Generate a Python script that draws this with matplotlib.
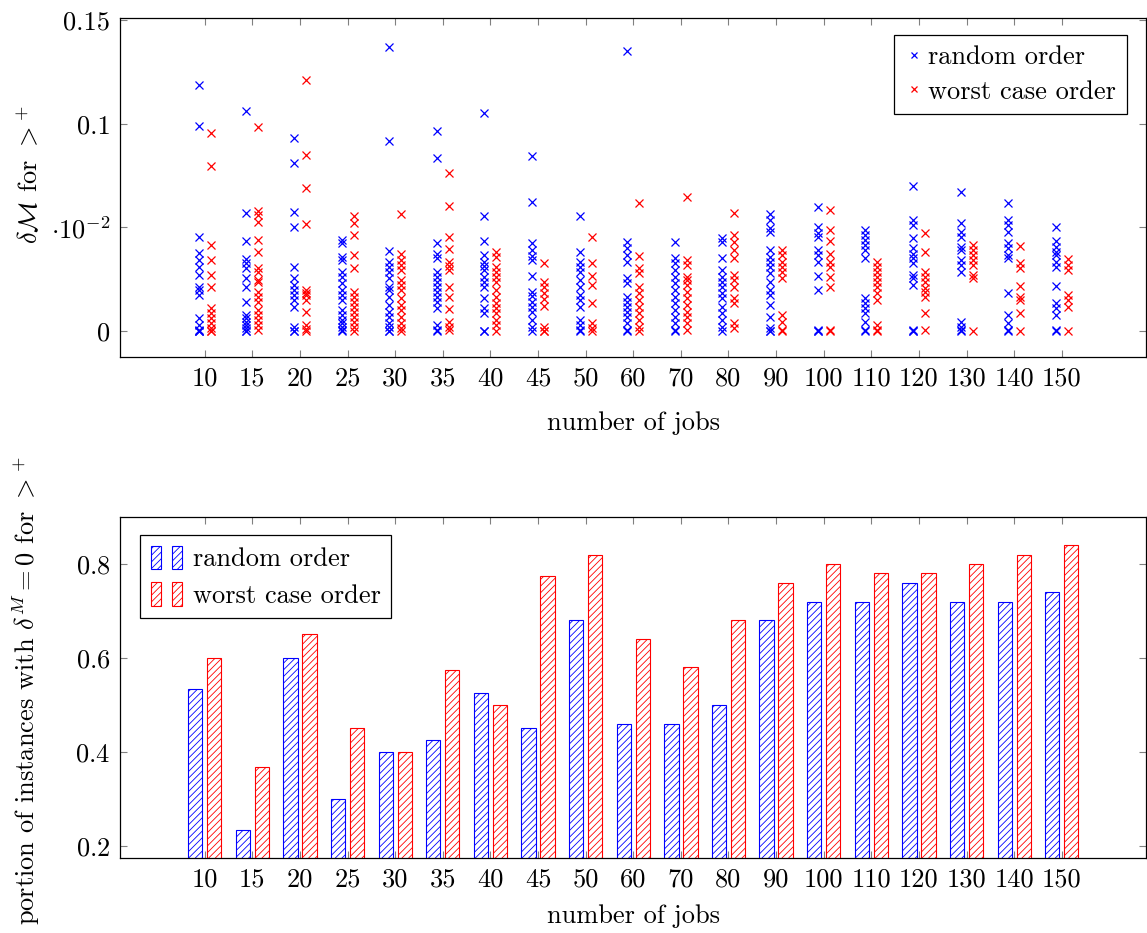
import numpy as np
import matplotlib
matplotlib.use('Agg')
import matplotlib.pyplot as plt
from matplotlib.patches import Patch
from matplotlib.legend_handler import HandlerTuple

jobs = [10, 15, 20, 25, 30, 35, 40, 45, 50, 60, 70, 80, 90, 100, 110, 120, 130, 140, 150]

# delta M values per instance (top chart), one list per number of jobs
random_delta = [
    [0.1186, 0.0988, 0.0455, 0.0378, 0.0342, 0.0307, 0.0270, 0.0214, 0.0198, 0.0174, 0.0061, 0.0029, 0.0005, 0, 0, 0],
    [0.1061, 0.0570, 0.0435, 0.0347, 0.0326, 0.0302, 0.0254, 0.0214, 0.0141, 0.0077, 0.0061, 0.0045, 0.0029, 0.0013, 0, 0],
    [0.0929, 0.0812, 0.0575, 0.0503, 0.0307, 0.0254, 0.0222, 0.0198, 0.0174, 0.0149, 0.0117, 0.0021, 0, 0],
    [0.0439, 0.0423, 0.0358, 0.0342, 0.0286, 0.0262, 0.0230, 0.0198, 0.0174, 0.0149, 0.0101, 0.0077, 0.0053, 0.0037, 0.0021, 0.0005, 0],
    [0.1371, 0.0918, 0.0387, 0.0334, 0.0310, 0.0286, 0.0254, 0.0214, 0.0198, 0.0165, 0.0125, 0.0093, 0.0069, 0.0037, 0.0021, 0, 0],
    [0.0964, 0.0833, 0.0426, 0.0371, 0.0350, 0.0286, 0.0262, 0.0238, 0.0214, 0.0189, 0.0165, 0.0141, 0.0109, 0.0029, 0.0005, 0],
    [0.1050, 0.0554, 0.0435, 0.0366, 0.0334, 0.0313, 0.0294, 0.0262, 0.0238, 0.0214, 0.0158, 0.0109, 0.0085, 0, 0],
    [0.0845, 0.0622, 0.0423, 0.0391, 0.0362, 0.0342, 0.0265, 0.0189, 0.0169, 0.0141, 0.0117, 0.0093, 0.0053, 0.0021, 0],
    [0.0554, 0.0382, 0.0334, 0.0310, 0.0286, 0.0246, 0.0214, 0.0174, 0.0149, 0.0117, 0.0053, 0.0029, 0.0005, 0],
    [0.1351, 0.0431, 0.0399, 0.0366, 0.0334, 0.0254, 0.0230, 0.0165, 0.0141, 0.0117, 0.0093, 0.0069, 0.0037, 0.0005, 0],
    [0.0431, 0.0350, 0.0326, 0.0294, 0.0262, 0.0230, 0.0198, 0.0165, 0.0134, 0.0101, 0.0069, 0.0037, 0.0005, 0],
    [0.0447, 0.0431, 0.0350, 0.0294, 0.0262, 0.0238, 0.0214, 0.0182, 0.0158, 0.0117, 0.0085, 0.0053, 0.0021, 0],
    [0.0567, 0.0535, 0.0495, 0.0479, 0.0391, 0.0358, 0.0334, 0.0310, 0.0278, 0.0238, 0.0198, 0.0174, 0.0125, 0.0069, 0.0013, 0, 0],
    [0.0599, 0.0503, 0.0471, 0.0452, 0.0391, 0.0366, 0.0334, 0.0265, 0.0198, 0.0005, 0, 0],
    [0.0487, 0.0463, 0.0439, 0.0415, 0.0391, 0.0350, 0.0158, 0.0134, 0.0109, 0.0085, 0.0045, 0.0005, 0],
    [0.0699, 0.0535, 0.0511, 0.0447, 0.0399, 0.0374, 0.0350, 0.0326, 0.0270, 0.0254, 0.0222, 0.0005, 0, 0],
    [0.0672, 0.0519, 0.0479, 0.0452, 0.0407, 0.0391, 0.0342, 0.0318, 0.0286, 0.0045, 0.0021, 0.0005, 0],
    [0.0616, 0.0535, 0.0511, 0.0479, 0.0423, 0.0399, 0.0366, 0.0350, 0.0182, 0.0077, 0.0037, 0.0005, 0],
    [0.0500, 0.0435, 0.0407, 0.0382, 0.0366, 0.0334, 0.0310, 0.0217, 0.0134, 0.0109, 0.0077, 0.0005, 0],
]
worst_delta = [
    [0.0953, 0.0797, 0.0415, 0.0342, 0.0270, 0.0211, 0.0109, 0.0085, 0.0063, 0.0037, 0.0014, 0, 0],
    [0.0985, 0.0580, 0.0559, 0.0527, 0.0439, 0.0382, 0.0302, 0.0286, 0.0246, 0.0238, 0.0189, 0.0165, 0.0141, 0.0101, 0.0077, 0.0053, 0.0029, 0.0005],
    [0.1210, 0.0849, 0.0688, 0.0514, 0.0198, 0.0184, 0.0174, 0.0149, 0.0093, 0.0029, 0.0010, 0],
    [0.0554, 0.0519, 0.0463, 0.0366, 0.0302, 0.0189, 0.0165, 0.0141, 0.0117, 0.0093, 0.0069, 0.0045, 0.0021, 0],
    [0.0563, 0.0371, 0.0342, 0.0318, 0.0294, 0.0246, 0.0222, 0.0198, 0.0158, 0.0125, 0.0101, 0.0069, 0.0037, 0.0013, 0],
    [0.0763, 0.0604, 0.0455, 0.0394, 0.0334, 0.0313, 0.0294, 0.0211, 0.0165, 0.0105, 0.0045, 0.0021, 0.0005],
    [0.0382, 0.0358, 0.0310, 0.0286, 0.0262, 0.0238, 0.0198, 0.0165, 0.0134, 0.0109, 0.0085, 0.0053, 0.0029, 0],
    [0.0326, 0.0238, 0.0214, 0.0182, 0.0153, 0.0121, 0.0021, 0, 0],
    [0.0455, 0.0329, 0.0265, 0.0222, 0.0134, 0.0037, 0.0013, 0],
    [0.0616, 0.0362, 0.0302, 0.0278, 0.0214, 0.0182, 0.0149, 0.0117, 0.0085, 0.0053, 0.0021, 0],
    [0.0647, 0.0342, 0.0318, 0.0262, 0.0246, 0.0222, 0.0189, 0.0158, 0.0125, 0.0093, 0.0069, 0.0037, 0.0005],
    [0.0570, 0.0463, 0.0431, 0.0391, 0.0350, 0.0270, 0.0246, 0.0214, 0.0158, 0.0134, 0.0037, 0.0013],
    [0.0391, 0.0366, 0.0334, 0.0310, 0.0286, 0.0254, 0.0077, 0.0045, 0.0005, 0],
    [0.0583, 0.0487, 0.0435, 0.0374, 0.0334, 0.0310, 0.0259, 0.0214, 0.0005, 0],
    [0.0334, 0.0310, 0.0286, 0.0262, 0.0238, 0.0214, 0.0182, 0.0149, 0.0029, 0.0005, 0],
    [0.0474, 0.0382, 0.0286, 0.0262, 0.0238, 0.0206, 0.0189, 0.0165, 0.0085, 0.0005],
    [0.0415, 0.0391, 0.0366, 0.0342, 0.0318, 0.0270, 0.0254, 0],
    [0.0411, 0.0329, 0.0302, 0.0217, 0.0165, 0.0149, 0.0088, 0],
    [0.0346, 0.0318, 0.0294, 0.0174, 0.0149, 0.0117, 0],
]

# portion of instances with delta = 0 (bottom chart)
random_zero = [0.533, 0.233, 0.60, 0.30, 0.40, 0.425, 0.525, 0.45, 0.68, 0.46, 0.46, 0.50, 0.68, 0.72, 0.72, 0.76, 0.72, 0.72, 0.74]
worst_zero = [0.60, 0.367, 0.65, 0.45, 0.40, 0.575, 0.50, 0.775, 0.82, 0.64, 0.58, 0.68, 0.76, 0.80, 0.78, 0.78, 0.80, 0.82, 0.84]

plt.rcParams['font.family'] = 'serif'
plt.rcParams['font.serif'] = ['cmr10', 'DejaVu Serif']
plt.rcParams['mathtext.fontset'] = 'cm'
plt.rcParams['axes.formatter.use_mathtext'] = True
plt.rcParams['font.size'] = 19
plt.rcParams['hatch.linewidth'] = 0.6

fig = plt.figure(figsize=(11.47, 9.33), dpi=100)
ax1 = fig.add_axes([0.1046, 0.6174, 0.8946, 0.3633])
ax2 = fig.add_axes([0.1046, 0.0804, 0.8946, 0.3655])

pos = np.arange(len(jobs))

def style(ax):
    ax.tick_params(direction='in', length=5, width=0.8, color='#808080',
                   top=True, right=True, pad=7, labelsize=19)
    for s in ax.spines.values():
        s.set_linewidth(0.9)
    ax.set_xticks(pos)
    ax.set_xticklabels([str(j) for j in jobs])
    ax.set_xlim(-1.78, 19.77)

# top: scatter of delta values
for i in range(len(jobs)):
    ax1.plot(np.full(len(random_delta[i]), pos[i] - 0.126), random_delta[i], 'x',
             color='blue', ms=6, mew=0.9, label='random order' if i == 0 else None)
    ax1.plot(np.full(len(worst_delta[i]), pos[i] + 0.126), worst_delta[i], 'x',
             color='red', ms=6, mew=0.9, label='worst case order' if i == 0 else None)
style(ax1)
ax1.set_ylim(-0.0125, 0.151)
ax1.set_yticks([0, 0.05, 0.1, 0.15])
ax1.set_yticklabels(['0', r'$\cdot 10^{-2}$', '0.1', '0.15'])
ax1.set_xlabel('number of jobs')
ax1.xaxis.set_label_coords(0.5, -0.16)
ax1.set_ylabel(r'$\delta\mathcal{M}$ for $>^{+}$')
ax1.yaxis.set_label_coords(-0.076, 0.537)
leg1 = ax1.legend(loc='upper right', bbox_to_anchor=(0.981, 0.95), fancybox=False,
                  edgecolor='black', framealpha=1, markerscale=0.8, handlelength=0.7,
                  handletextpad=0.2, borderpad=0.4, labelspacing=0.4, borderaxespad=0)
leg1.get_frame().set_linewidth(0.9)

# bottom: bars
ax2.bar(pos - 0.2, random_zero, width=0.3, facecolor='white', edgecolor='blue',
        hatch='/////', linewidth=0.8)
ax2.bar(pos + 0.2, worst_zero, width=0.3, facecolor='white', edgecolor='red',
        hatch='/////', linewidth=0.8)
style(ax2)
ax2.set_ylim(0.174, 0.9)
ax2.set_yticks([0.2, 0.4, 0.6, 0.8])
ax2.set_xlabel('number of jobs')
ax2.xaxis.set_label_coords(0.5, -0.135)
ax2.set_ylabel(r'portion of instances with $\delta^M = 0$ for $>^{+}$')
ax2.yaxis.set_label_coords(-0.076, 0.49)

def pair(c):
    return (Patch(facecolor='white', edgecolor=c, hatch='/////', linewidth=0.8),
            Patch(facecolor='white', edgecolor=c, hatch='/////', linewidth=0.8))

leg2 = ax2.legend([pair('blue'), pair('red')], ['random order', 'worst case order'],
                  handler_map={tuple: HandlerTuple(ndivide=None, pad=0.4)},
                  loc='upper left', bbox_to_anchor=(0.0195, 0.947), fancybox=False,
                  edgecolor='black', framealpha=1, handlelength=1.2, handleheight=1.0,
                  handletextpad=0.4, borderpad=0.4, labelspacing=0.4, borderaxespad=0)
leg2.get_frame().set_linewidth(0.9)

fig.savefig('out.png', dpi=100)
